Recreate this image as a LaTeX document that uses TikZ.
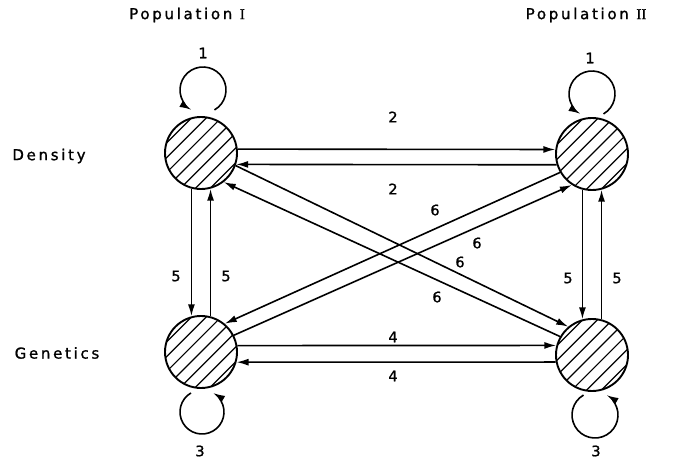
\documentclass[tikz,border=0pt]{standalone}
\usepackage{fontspec}
\setmainfont{DejaVu Sans}[LetterSpace=18,FakeBold=1.2]
\newfontfamily\romanfont{Liberation Serif}[FakeBold=1.2]
\usetikzlibrary{arrows.meta,calc}
\tikzset{
  pop/.style={circle,draw,line width=1.9pt,minimum size=72pt,inner sep=0pt,
    path picture={
      \foreach \k in {-3,...,3}{
        \draw[line width=1.2pt] ($(path picture bounding box.center)+(45:-42)+(135:\k*10.5)$) -- ++(45:84);
      }
    }},
  conn/.style={line width=1.6pt,-{Latex[length=12pt,width=7pt]}},
  lab/.style={font=\fontsize{14.5}{16}\selectfont,inner sep=1pt},
  side/.style={font=\fontsize{15}{17}\selectfont,inner sep=1pt}
}
\begin{document}
\begin{tikzpicture}[x=1pt,y=1pt]
\useasboundingbox (0,0) rectangle (674,462);
% population nodes
\node[pop] (A) at (201,309) {};
\node[pop] (B) at (592,308) {};
\node[pop] (C) at (201,110) {};
\node[pop] (D) at (592,107) {};
% titles
\node[side] (t1) at (187,447) {Population {\romanfont I}};
\node[side] (t2) at (586,447) {Population {\romanfont II}};
\node[side] (d) at (49,306) {Density};
\node[side] (g) at (57,109) {Genetics};
% self loops
\coordinate (la) at (203,372);
\coordinate (lb) at (592,368);
\coordinate (lc) at (202,50);
\coordinate (ld) at (595,47);
\draw[conn] ([shift={(-60:23)}]la) arc (-60:240:23);
\draw[conn] ([shift={(-60:23)}]lb) arc (-60:240:23);
\draw[conn] ([shift={(120:22)}]lc) arc (120:420:22);
\draw[conn] ([shift={(120:23)}]ld) arc (120:420:23);
\node[lab] (n1a) at (203,409) {1};
\node[lab] (n1b) at (590,404) {1};
\node[lab] (n3c) at (200,11) {3};
\node[lab] (n3d) at (596,11) {3};
% horizontal pairs
\draw[conn] (A.6) -- (B.173);
\draw[conn] (B.197) -- (A.-18);
\draw[conn] (C.10) -- (D.165);
\draw[conn] (D.191) -- (C.-16);
\node[lab] (n2a) at (393,345) {2};
\node[lab] (n2b) at (393,273) {2};
\node[lab] (n4a) at (393,125) {4};
\node[lab] (n4b) at (393,86) {4};
% vertical pairs
\draw[conn] (A.255) -- (C.105);
\draw[conn] (C.75) -- (A.285);
\draw[conn] (B.255) -- (D.105);
\draw[conn] (D.75) -- (B.285);
\node[lab] (n5a) at (176,186) {5};
\node[lab] (n5b) at (226,186) {5};
\node[lab] (n5c) at (568,184) {5};
\node[lab] (n5d) at (617,184) {5};
% diagonals
\draw[conn] (A.-20) -- (D.130);
\draw[conn] (D.150) -- (A.-52);
\draw[conn] (B.210) -- (C.50);
\draw[conn] (C.27) -- (B.237);
\node[lab] (n6a) at (435,252) {6};
\node[lab] (n6b) at (477,219) {6};
\node[lab] (n6c) at (460,200) {6};
\node[lab] (n6d) at (437,165) {6};
\end{tikzpicture}
\end{document}
